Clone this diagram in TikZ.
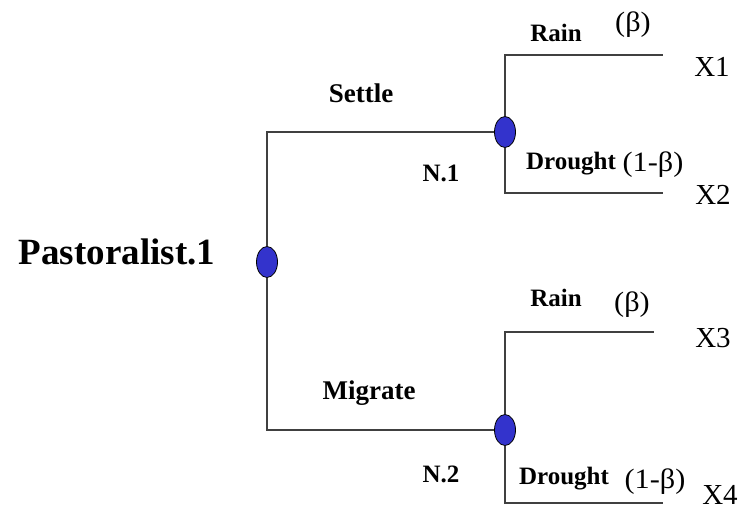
\documentclass[tikz,border=0pt]{standalone}
\usepackage{fontspec}
\setmainfont{Liberation Serif}
\usetikzlibrary{shapes.geometric}
\definecolor{chanceblue}{RGB}{51,51,204}

\begin{document}
\begin{tikzpicture}[
		x=1pt, y=-1pt,
		chance/.style={ellipse,draw,fill=chanceblue,minimum width=21pt,minimum height=31pt,inner sep=0pt,line width=0.8pt},
		branch/.style={line width=1.4pt,draw=black!75},
		act/.style={anchor=base,inner sep=0pt,font=\bfseries\fontsize{25}{25}\selectfont},
		move/.style={act,font=\bfseries\fontsize{27}{27}\selectfont},
		prob/.style={anchor=base,inner sep=0pt,xscale=1.08,font=\fontsize{28}{28}\selectfont},
		pay/.style={anchor=base,inner sep=0pt,font=\fontsize{29}{29}\selectfont}
		]
		\useasboundingbox (0,0) rectangle (741,510);
		% decision and chance points
		\node[chance] (root) at (267,262) {};
		\node[chance] (n1) at (505,132) {};
		\node[chance] (n2) at (505,430) {};
		\coordinate (e1) at (663,55);
		\coordinate (e2) at (663,193);
		\coordinate (e3) at (654,332);
		\coordinate (e4) at (663,503);
		
		\draw[branch] (root) |- (n1);
		\draw[branch] (root) |- (n2);
		\draw[branch] (n1) |- (e1);
		\draw[branch] (n1) |- (e2);
		\draw[branch] (n2) |- (e3);
		\draw[branch] (n2) |- (e4);
		
		% labels
		\node[anchor=base,inner sep=0pt,font=\bfseries\fontsize{37}{37}\selectfont] (player) at (117,265) {Pastoralist.1};
		\node[move] (settle) at (361,103) {Settle};
		\node[move] (migrate) at (369,399) {Migrate};
		\node[act] (lab1) at (441,182) {N.1};
		\node[act] (lab2) at (441,482) {N.2};
		\node[act] (rain1) at (556,42) {Rain};
		\node[act] (dry1) at (571,170) {Drought};
		\node[act] (rain2) at (556,307) {Rain};
		\node[act] (dry2) at (564,484) {Drought};
		\node[prob] (p1) at (633,32) {(β)};
		\node[prob] (q1) at (653,172) {(1-β)};
		\node[prob] (p2) at (632,312) {(β)};
		\node[prob] (q2) at (655,488) {(1-β)};
		\node[pay] (x1) at (712,77) {X1};
		\node[pay] (x2) at (713,205) {X2};
		\node[pay] (x3) at (713,347) {X3};
		\node[pay] (x4) at (720,504) {X4};
\end{tikzpicture}
\end{document}
